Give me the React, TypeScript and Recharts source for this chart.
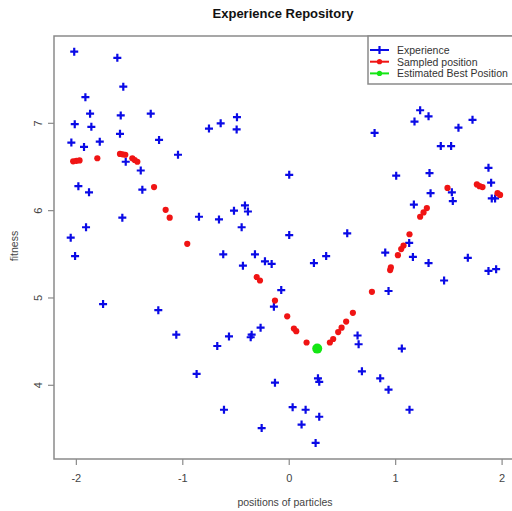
import { ScatterChart, Scatter, XAxis, YAxis, ReferenceArea } from "recharts";

// blue "+" points
const experienceX = [
  -2.02, -1.615, -1.559, -1.915, -1.871, -1.583, -1.301, -2.015, -1.859, -1.59,
  -0.754, -2.047, -1.928, -1.78, -1.223, -1.045, -1.536, -1.395, -1.981, -1.881,
  -1.38, -1.568, -0.848, -1.909, -2.053, -0.644, -0.491, -0.494, 0.0, -0.416,
  -0.388, -0.519, -0.66, -0.447, 0.0, 0.545, 1.23, 1.177, 1.309, 1.722,
  1.59, 0.802, 1.424, 1.521, 1.872, 1.005, 1.318, 1.897, 1.328, 1.528,
  1.537, 1.171, 1.903, 1.934, 1.127, 0.902, 1.162, 1.309, 1.678, 1.872,
  1.944, 1.455, 0.933, 0.642, 0.652, 1.058, 0.683, 0.855, 0.933, 1.13,
  -0.62, -0.322, -0.435, -0.228, -0.165, 0.232, 0.347, -0.075, -0.144, -0.269,
  -0.353, -0.362, -0.566, -0.676, -0.134, 0.27, 0.282, -0.613, 0.032, 0.154,
  0.282, 0.116, -0.259, 0.248, -2.012, -1.749, -1.23, -1.061, -0.87,
];
const experienceY = [
  7.82, 7.75, 7.42, 7.3, 7.11, 7.09, 7.11, 6.99, 6.96, 6.88,
  6.94, 6.78, 6.73, 6.79, 6.81, 6.64, 6.56, 6.46, 6.28, 6.21,
  6.24, 5.92, 5.93, 5.81, 5.69, 7.0, 7.07, 6.93, 6.41, 6.06,
  5.99, 6.0, 5.9, 5.81, 5.72, 5.74, 7.15, 7.02, 7.08, 7.04,
  6.95, 6.89, 6.74, 6.74, 6.49, 6.4, 6.43, 6.32, 6.2, 6.21,
  6.11, 6.07, 6.14, 6.14, 5.63, 5.52, 5.47, 5.4, 5.46, 5.31,
  5.33, 5.2, 5.08, 4.57, 4.47, 4.42, 4.16, 4.08, 3.95, 3.72,
  5.5, 5.5, 5.37, 5.42, 5.39, 5.4, 5.48, 5.09, 4.9, 4.66,
  4.58, 4.55, 4.56, 4.45, 4.03, 4.08, 4.04, 3.72, 3.75, 3.72,
  3.64, 3.55, 3.51, 3.34, 5.48, 4.93, 4.86, 4.58, 4.13,
];

// red dots
const sampledX = [
  -2.03, -2.0, -1.97, -1.803, -1.59, -1.565, -1.54, -1.474, -1.452, -1.427,
  -1.27, -1.161, -1.123, -0.958, -0.306, -0.275, -0.134, -0.019, 0.044, 0.066,
  0.163, 0.382, 0.413, 0.46, 0.492, 0.535, 0.598, 0.777, 0.948, 0.955,
  1.021, 1.052, 1.074, 1.13, 1.23, 1.262, 1.293, 1.487, 1.763, 1.788,
  1.816, 1.957, 1.981,
];
const sampledY = [
  6.565, 6.57, 6.575, 6.6, 6.65, 6.645, 6.64, 6.6, 6.58, 6.56,
  6.27, 6.01, 5.92, 5.62, 5.24, 5.2, 4.97, 4.79, 4.65, 4.62,
  4.49, 4.49, 4.53, 4.61, 4.66, 4.73, 4.83, 5.07, 5.32, 5.35,
  5.49, 5.56, 5.6, 5.73, 5.93, 5.98, 6.03, 6.26, 6.3, 6.28,
  6.27, 6.2, 6.18,
];

// green dot
const bestX = [0.263];
const bestY = [4.42];

const xTicks = [-2, -1, 0, 1, 2];
const yTicks = [4, 5, 6, 7];
const xDomain = [-2.21, 2.14];
const yDomain = [3.156, 8.0];

const experience = experienceX.map((x, i) => ({ x, y: experienceY[i] }));
const sampled = sampledX.map((x, i) => ({ x, y: sampledY[i] }));
const best = bestX.map((x, i) => ({ x, y: bestY[i] }));

const FONT = "'Liberation Sans', Arial, sans-serif";
const BLUE = "#0a0ae6";
const RED = "#f01414";
const GREEN = "#14e614";
const AXIS = "#8a8a8a";

const Plus = (p: any) => (
  <path
    d={`M${p.cx - 4},${p.cy}h8M${p.cx},${p.cy - 4}v8`}
    stroke={BLUE}
    strokeWidth={2.2}
  />
);
const RedDot = (p: any) => <circle cx={p.cx} cy={p.cy} r={3.1} fill={RED} />;
const GreenDot = (p: any) => <circle cx={p.cx} cy={p.cy} r={5} fill={GREEN} />;

const XTick = ({ x, y, payload }: any) => (
  <text x={x} y={y + 15} textAnchor="middle" fontSize={11} fill="#444" fontFamily={FONT}>
    {payload.value}
  </text>
);
const YTick = ({ x, y, payload }: any) => (
  <text
    x={x}
    y={y}
    transform={`rotate(-90 ${x} ${y})`}
    textAnchor="middle"
    fontSize={11}
    fill="#444"
    fontFamily={FONT}
  >
    {payload.value}
  </text>
);

const legendItems = [
  { name: "Experience", color: BLUE, kind: "plus" },
  { name: "Sampled position", color: RED, kind: "dot" },
  { name: "Estimated Best Position", color: GREEN, kind: "dot" },
];

export default function App() {
  return (
    <div
      style={{
        position: "fixed",
        left: 0,
        top: 0,
        width: 512,
        height: 511,
        overflow: "hidden",
        background: "#fff",
      }}
    >
      <ScatterChart width={530} height={511} margin={{ top: 36, right: 13, bottom: 0, left: 0 }}>
        <XAxis
          type="number"
          dataKey="x"
          domain={xDomain}
          ticks={xTicks}
          allowDataOverflow
          height={52}
          axisLine={false}
          tickSize={6}
          tickMargin={2}
          tickLine={{ stroke: AXIS, strokeWidth: 1.2 }}
          tick={<XTick />}
        />
        <YAxis
          type="number"
          dataKey="y"
          domain={yDomain}
          ticks={yTicks}
          allowDataOverflow
          width={54}
          axisLine={false}
          tickSize={6}
          tickMargin={6}
          tickLine={{ stroke: AXIS, strokeWidth: 1.2 }}
          tick={<YTick />}
        />
        <ReferenceArea
          x1={xDomain[0]}
          x2={xDomain[1]}
          y1={yDomain[0]}
          y2={yDomain[1]}
          fill="none"
          stroke={AXIS}
          strokeWidth={1.5}
          ifOverflow="visible"
        />
        <Scatter data={experience} shape={Plus} isAnimationActive={false} />
        <Scatter data={sampled} shape={RedDot} isAnimationActive={false} />
        <Scatter data={best} shape={GreenDot} isAnimationActive={false} />
      </ScatterChart>
      <svg
        width={512}
        height={511}
        style={{ position: "absolute", left: 0, top: 0, pointerEvents: "none" }}
        fontFamily={FONT}
      >
        <text x={283} y={18} textAnchor="middle" fontSize={13} fontWeight="bold" fill="#111">
          Experience Repository
        </text>
        <text x={285} y={506} textAnchor="middle" fontSize={10.5} fill="#444">
          positions of particles
        </text>
        <text
          x={18}
          y={246}
          textAnchor="middle"
          fontSize={10.5}
          fill="#444"
          transform="rotate(-90 18 246)"
        >
          fitness
        </text>
        <rect x={368} y={36} width={149} height={48} fill="#fff" stroke={AXIS} strokeWidth={1.5} />
        {legendItems.map((it, i) => {
          const cy = 50 + i * 11.7;
          return (
            <g key={it.name}>
              <line x1={370} x2={389} y1={cy} y2={cy} stroke={it.color} strokeWidth={2} />
              {it.kind === "plus" ? (
                <path d={`M${375.5},${cy}h8M${379.5},${cy - 4}v8`} stroke={it.color} strokeWidth={2.2} />
              ) : (
                <circle cx={379.5} cy={cy} r={2.6} fill={it.color} />
              )}
              <text x={397} y={cy + 4} fontSize={10.5} fill="#333">
                {it.name}
              </text>
            </g>
          );
        })}
      </svg>
    </div>
  );
}
